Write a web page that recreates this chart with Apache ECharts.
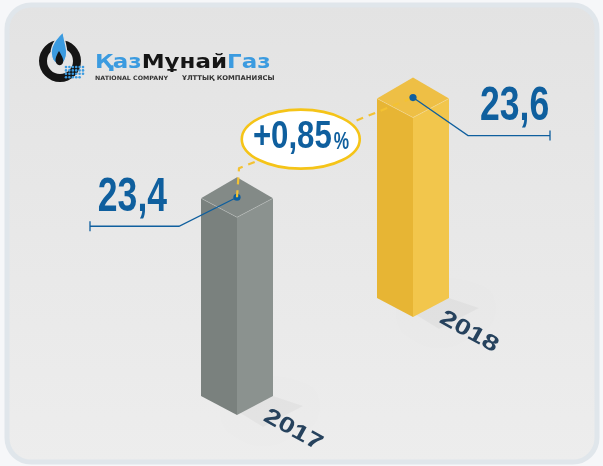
<!DOCTYPE html>
<html><head><meta charset="utf-8">
<script src="https://cdn.jsdelivr.net/npm/echarts@6/dist/echarts.min.js"></script>
<style>html,body{margin:0;padding:0;background:#f6f7f9}#c{width:603px;height:466px}</style>
</head><body><div id="c"></div>
<script>
const categories = ['2017', '2018'];
const values = [23.4, 23.6];
const changeText = '+0,85';
const changeUnit = '%';
const brandParts = ['Қаз', 'Мұнай', 'Газ'];
const brandSubEn = 'NATIONAL COMPANY';
const brandSubKz = 'ҰЛТТЫҚ КОМПАНИЯСЫ';

const faceColors = [
  {left: '#7a817e', right: '#8b928f', top: '#838a87'},
  {left: '#e7b534', right: '#f2c64c', top: '#eebf45'}
];
const BLUE = '#0f5f9e';
const NUM_FONT = '"Liberation Sans", Arial, sans-serif';
const fmt = v => v.toFixed(1).replace('.', ',');

function ellipsePath(cx, cy, rx, ry) {
  return 'M' + (cx - rx) + ' ' + cy + ' A' + rx + ' ' + ry + ' 0 1 0 ' + (cx + rx) + ' ' + cy +
    ' A' + rx + ' ' + ry + ' 0 1 0 ' + (cx - rx) + ' ' + cy + ' Z';
}

function dotOf(api, i) {
  const p0 = api.coord([0, 0]);
  const pb = api.coord([i, 0]);
  const pt = api.coord([i, values[i]]);
  const shift = (pb[0] - p0[0]) * 0.557;
  return {fx: pb[0], fyB: pb[1] - shift, fyT: pt[1] - shift};
}

function renderItem(params, api) {
  const i = params.dataIndex;
  const g = dotOf(api, i);
  const fx = g.fx, fyB = g.fyB, fyT = g.fyT;
  const w = 36, d = 19;
  const c = faceColors[i];
  const ch = [];
  ch.push({type: 'polygon', shape: {points: [[fx, fyB - 4], [fx + w, fyB - d], [fx + w + 30, fyB - d + 10], [fx + 26, fyB + 12]]},
    style: {fill: 'rgba(0,0,0,0.03)', shadowBlur: 18, shadowColor: 'rgba(0,0,0,0.08)'}});
  ch.push({type: 'polygon', shape: {points: [[fx - w, fyT - d], [fx, fyT], [fx, fyB], [fx - w, fyB - d]]}, style: {fill: c.left}});
  ch.push({type: 'polygon', shape: {points: [[fx, fyT], [fx + w, fyT - d], [fx + w, fyB - d], [fx, fyB]]}, style: {fill: c.right}});
  ch.push({type: 'polygon', shape: {points: [[fx, fyT], [fx - w, fyT - d], [fx, fyT - 2 * d - 2], [fx + w, fyT - d]]}, style: {fill: c.top}});
  ch.push({type: 'polyline', shape: {points: [[fx - w, fyT - d], [fx, fyT], [fx + w, fyT - d]]}, style: {stroke: 'rgba(255,255,255,0.22)', lineWidth: 1, fill: null}});
  const dx = fx, dy = fyT - d - 1;
  if (i > 0) {
    const p = dotOf(api, i - 1);
    const px = p.fx, py = p.fyT - d - 1;
    const corner = [px + 2, py - 29];
    ch.push({type: 'polyline', shape: {points: [[px, py], corner, [dx, dy]]},
      style: {stroke: '#f3c233', lineWidth: 2.2, lineDash: [7, 6], fill: null}});
    const t = 0.355;
    const ex = corner[0] + t * (dx - corner[0]);
    const ey = corner[1] + t * (dy - corner[1]) - 4;
    ch.push({type: 'path', shape: {pathData: ellipsePath(ex, ey, 59, 29.5)}, style: {fill: '#ffffff', stroke: '#f5c418', lineWidth: 2.6}});
    ch.push({type: 'text', x: ex + 31, y: ey - 1.5, scaleX: 0.82,
      style: {text: changeText, font: 'bold 38px ' + NUM_FONT, fill: BLUE, align: 'right', verticalAlign: 'middle'}});
    ch.push({type: 'text', x: ex + 33, y: ey + 3.5, scaleX: 0.75,
      style: {text: changeUnit, font: 'bold 23px ' + NUM_FONT, fill: BLUE, align: 'left', verticalAlign: 'middle'}});
  }
  const side = i === 0 ? -1 : 1;
  const elbow = [dx + side * (i === 0 ? 58 : 55), dy + (i === 0 ? 29 : 38)];
  const end = dx + side * (i === 0 ? 147 : 137);
  ch.push({type: 'polyline', shape: {points: [[dx, dy], elbow, [end, elbow[1]]]}, style: {stroke: BLUE, lineWidth: 1.3, fill: null}});
  ch.push({type: 'line', shape: {x1: end, y1: elbow[1] - 5, x2: end, y2: elbow[1] + 5}, style: {stroke: BLUE, lineWidth: 1.3}});
  ch.push({type: 'circle', shape: {cx: dx, cy: dy, r: 3.6}, style: {fill: BLUE}});
  ch.push({type: 'text', x: elbow[0] + side * 12, y: elbow[1] - 29, scaleX: 0.74,
    style: {text: fmt(values[i]), font: 'bold 48px ' + NUM_FONT, fill: BLUE,
      align: side < 0 ? 'right' : 'left', verticalAlign: 'middle'}});
  ch.push({type: 'text', x: fx + 56, y: fyB + 15, rotation: -29 * Math.PI / 180, scaleX: 1.3,
    style: {text: categories[i], font: 'bold 22px "Liberation Sans", Arial, sans-serif', fill: '#26425d',
      align: 'center', verticalAlign: 'middle'}});
  return {type: 'group', children: ch};
}

function renderLogo(params, api) {
  const ch = [];
  ch.push({type: 'ring', shape: {cx: 60, cy: 61, r: 21, r0: 13}, style: {fill: '#151515'}});
  ch.push({type: 'path', shape: {pathData: 'M63 32 C51 43 49 52 53 60 C56 65 63 65 65 60 C69 52 65 45 63 32 Z'}, style: {fill: '#3b9be0', stroke: '#e4e4e4', lineWidth: 1.2}});
  ch.push({type: 'path', shape: {pathData: 'M59 51 C55.5 57 55 60 56 62.5 C57.5 66 62 66 63 62.5 C64 60 62.5 57 59 51 Z'}, style: {fill: '#151515'}});
  for (let r = 0; r < 4; r++) for (let k = 0; k < 6 - (r > 2 ? 1 : 0); k++) {
    ch.push({type: 'circle', shape: {cx: 66 + k * 3.4, cy: 67 + r * 3.4, r: 1.3}, style: {fill: '#3b9be0'}});
  }
  ch.push({type: 'text', x: 95, y: 73, scaleX: 1.15,
    style: {text: '{b|' + brandParts[0] + '}{k|' + brandParts[1] + '}{b|' + brandParts[2] + '}', font: 'bold 20px "DejaVu Sans", sans-serif',
      rich: {b: {fill: '#3b9be0', font: 'bold 20px "DejaVu Sans", sans-serif'}, k: {fill: '#151515', font: 'bold 20px "DejaVu Sans", sans-serif'}},
      verticalAlign: 'bottom'}});
  ch.push({type: 'text', x: 95, y: 78, scaleX: 1.05, style: {text: brandSubEn, font: 'bold 6px "DejaVu Sans", sans-serif', fill: '#333', verticalAlign: 'middle'}});
  ch.push({type: 'text', x: 182, y: 78, scaleX: 1.05, style: {text: brandSubKz, font: 'bold 6.5px "DejaVu Sans", sans-serif', fill: '#333', verticalAlign: 'middle'}});
  return {type: 'group', children: ch};
}

const chart = echarts.init(document.getElementById('c'), null, {renderer: 'canvas'});
chart.setOption({
  animation: false,
  backgroundColor: '#f6f7f9',
  grid: {left: 149, right: 102, top: 161.5, bottom: 51},
  xAxis: {type: 'category', data: categories, show: false},
  yAxis: {type: 'value', min: 0, max: 30, show: false},
  graphic: [
    {type: 'rect', shape: {x: 7, y: 5, width: 590, height: 457, r: 24}, z: -10,
      style: {stroke: '#e0e6eb', lineWidth: 5,
        fill: {type: 'linear', x: 0, y: 0, x2: 0, y2: 1, colorStops: [{offset: 0, color: '#e3e3e3'}, {offset: 0.6, color: '#e9e9e9'}, {offset: 1, color: '#ededed'}]}}}
  ],
  series: [{
    type: 'custom',
    renderItem: renderItem,
    data: values.map((v, i) => [i, v]),
    encode: {x: 0, y: 1},
    clip: false
  }, {
    type: 'custom',
    coordinateSystem: 'none',
    renderItem: renderLogo,
    data: [0],
    z: 5
  }]
});
</script>
</body></html>
